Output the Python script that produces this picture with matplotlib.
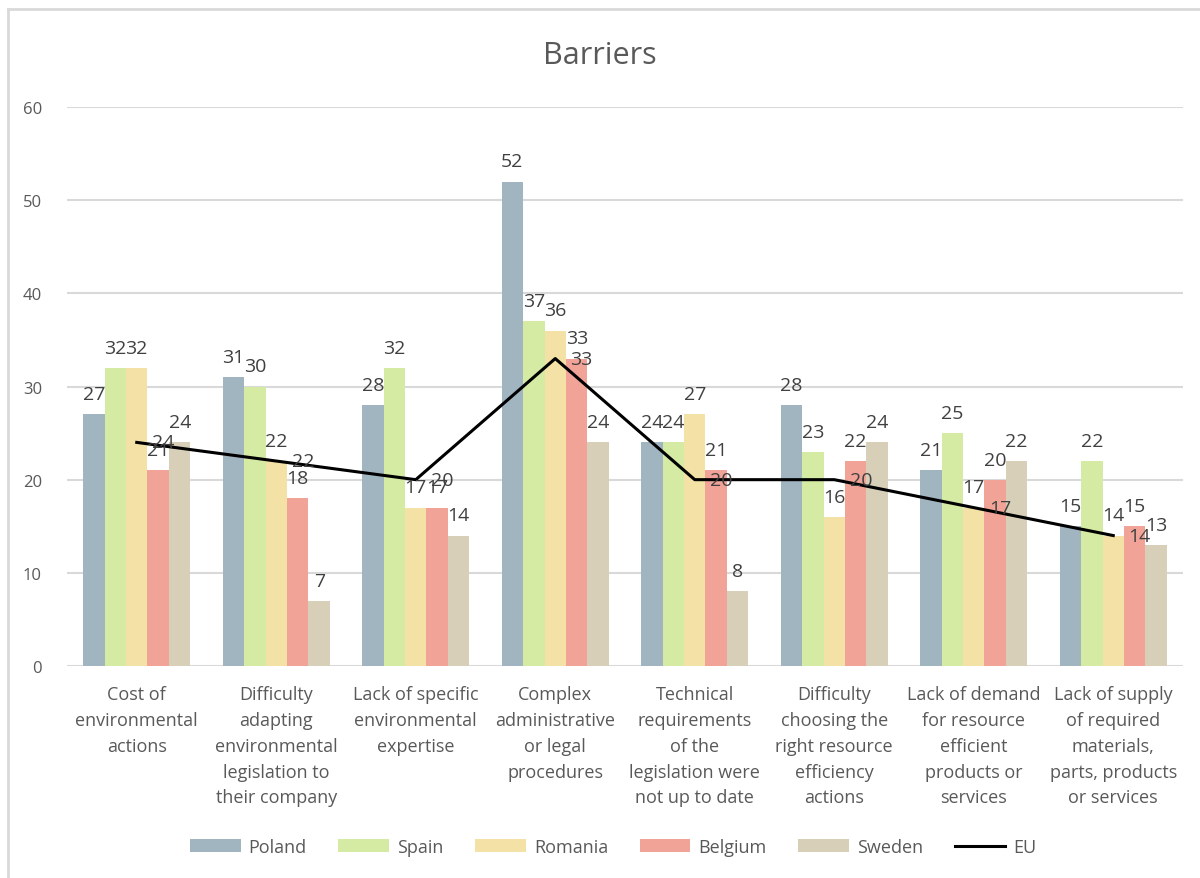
import matplotlib
matplotlib.use("Agg")
import matplotlib.pyplot as plt
from matplotlib.lines import Line2D
from matplotlib.patches import Patch
import numpy as np

plt.rcParams['font.family'] = ['Open Sans', 'DejaVu Sans']

categories = [
    "Cost of\nenvironmental\nactions",
    "Difficulty\nadapting\nenvironmental\nlegislation to\ntheir company",
    "Lack of specific\nenvironmental\nexpertise",
    "Complex\nadministrative\nor legal\nprocedures",
    "Technical\nrequirements\nof the\nlegislation were\nnot up to date",
    "Difficulty\nchoosing the\nright resource\nefficiency\nactions",
    "Lack of demand\nfor resource\nefficient\nproducts or\nservices",
    "Lack of supply\nof required\nmaterials,\nparts, products\nor services",
]
poland = [27, 31, 28, 52, 24, 28, 21, 15]
spain = [32, 30, 32, 37, 24, 23, 25, 22]
romania = [32, 22, 17, 36, 27, 16, 17, 14]
belgium = [21, 18, 17, 33, 21, 22, 20, 15]
sweden = [24, 7, 14, 24, 8, 24, 22, 13]
eu = [24, 22, 20, 33, 20, 20, 17, 14]

series_names = ["Poland", "Spain", "Romania", "Belgium", "Sweden"]
series = [poland, spain, romania, belgium, sweden]
colors = ["#A1B5C1", "#D5EAA2", "#F4E1A5", "#F2A398", "#D7CFB8"]
text_color = "#595959"

fig = plt.figure(figsize=(12, 8.79), dpi=100)
ax = fig.add_axes([67/1200, 1 - 667/879, (1183 - 67)/1200, (667 - 108)/879])

x = np.arange(len(categories))
bw = 0.154
for i, (vals, c) in enumerate(zip(series, colors)):
    pos = x + (i - 2) * bw
    ax.bar(pos, vals, width=bw, color=c, zorder=2)
    for p, v in zip(pos, vals):
        ax.annotate(str(v), (p, v), xytext=(0, 14.5), textcoords="offset points",
                    ha="center", va="center", fontsize=14, color="#404040", zorder=5)

ax.plot(x, eu, color="black", lw=2.2, zorder=4)
for p, v in zip(x, eu):
    ax.annotate(str(v), (p, v), xytext=(11, 0), textcoords="offset points",
                ha="left", va="center", fontsize=14, color="#404040", zorder=5)

ax.set_xlim(-0.5, len(categories) - 0.5)
ax.set_ylim(0, 60)
ax.set_yticks(range(0, 61, 10))
ax.yaxis.grid(True, color="#D9D9D9", lw=1.5, zorder=0)
ax.set_axisbelow(True)
for s in ax.spines.values():
    s.set_visible(False)
ax.tick_params(axis="y", length=0, pad=18, labelsize=12, labelcolor=text_color)
ax.tick_params(axis="x", length=0, pad=14)
ax.set_xticks(x)
ax.set_xticklabels(categories, fontsize=13, color=text_color, linespacing=1.55, va="top")

fig.text(0.5, 1 - 56/879, "Barriers", ha="center", va="center", fontsize=22, color=text_color)

handles = [Patch(facecolor=c, label=n) for n, c in zip(series_names, colors)]
handles.append(Line2D([0], [0], color="black", lw=2.2, label="EU"))
fig.legend(handles=handles, loc="center", bbox_to_anchor=(0.511, 1 - 848/879), ncol=6,
           frameon=False, fontsize=13, labelcolor=text_color, handlelength=2.8,
           handleheight=0.75, columnspacing=1.75, handletextpad=0.45)

# outer frame (partially visible)
fig.add_artist(Line2D([8/1200, 1], [1 - 10/879, 1 - 10/879], transform=fig.transFigure, color="#D9D9D9", lw=2))
fig.add_artist(Line2D([8/1200, 8/1200], [0, 1 - 10/879], transform=fig.transFigure, color="#D9D9D9", lw=2))

fig.savefig("out.png", dpi=100, facecolor="white")
